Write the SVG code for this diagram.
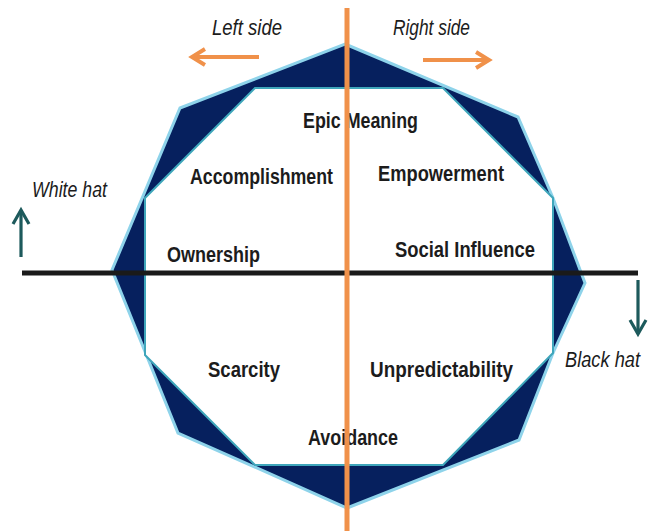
<svg xmlns="http://www.w3.org/2000/svg" width="656" height="531" viewBox="0 0 656 531">
<defs>
<style>
.lbl{font-family:"Liberation Sans",Arial,sans-serif;font-weight:bold;font-size:22.5px;fill:#1c1c1c}
.side{font-family:"Liberation Sans",Arial,sans-serif;font-style:italic;font-size:22px;fill:#1c1c1c}
.orange{stroke:#f0914a;fill:none;stroke-linecap:butt}
.teal{stroke:#1d5a5c;fill:none}
</style>
<marker id="oh" markerUnits="userSpaceOnUse" markerWidth="20" markerHeight="24" refX="14" refY="10" orient="auto">
<path d="M1,2 L14,10 L1,18" fill="none" stroke="#f0914a" stroke-width="4" stroke-linejoin="miter"/>
</marker>
<marker id="th" markerUnits="userSpaceOnUse" markerWidth="20" markerHeight="24" refX="15" refY="10" orient="auto">
<path d="M1,2 L15,10 L1,18" fill="none" stroke="#1d5a5c" stroke-width="3.2"/>
</marker>
</defs>
<rect width="656" height="531" fill="#ffffff"/>
<g id="frame">
<polygon points="345,44 518,117 553,198 585,283 553,353 519,440 347,508 178,433 112,270 180,108" fill="#06205e" stroke="#8ed3ea" stroke-width="3" stroke-linejoin="miter"/>
<polygon points="255,88 443,88 553,198 553,353 443,465 255,465 145,355 145,198" fill="#ffffff" stroke="#3fa6bb" stroke-width="2"/>
</g>
<g id="epic-meaning"><text class="lbl" x="303" y="128" textLength="115" lengthAdjust="spacingAndGlyphs">Epic Meaning</text></g>
<g id="accomplishment"><text class="lbl" x="190" y="184" textLength="143" lengthAdjust="spacingAndGlyphs">Accomplishment</text></g>
<g id="empowerment"><text class="lbl" x="378" y="181" textLength="126" lengthAdjust="spacingAndGlyphs">Empowerment</text></g>
<g id="ownership"><text class="lbl" x="167" y="262" textLength="93" lengthAdjust="spacingAndGlyphs">Ownership</text></g>
<g id="social-influence"><text class="lbl" x="395" y="257" textLength="140" lengthAdjust="spacingAndGlyphs">Social Influence</text></g>
<g id="scarcity"><text class="lbl" x="208" y="377" textLength="72" lengthAdjust="spacingAndGlyphs">Scarcity</text></g>
<g id="unpredictability"><text class="lbl" x="370" y="377" textLength="143" lengthAdjust="spacingAndGlyphs">Unpredictability</text></g>
<g id="avoidance"><text class="lbl" x="308" y="445" textLength="90" lengthAdjust="spacingAndGlyphs">Avoidance</text></g>
<g id="left-side"><text class="side" x="212" y="35" textLength="70" lengthAdjust="spacingAndGlyphs">Left side</text></g>
<g id="right-side"><text class="side" x="393" y="35" textLength="77" lengthAdjust="spacingAndGlyphs">Right side</text></g>
<g id="white-hat"><text class="side" x="32" y="197" textLength="75" lengthAdjust="spacingAndGlyphs">White hat</text></g>
<g id="black-hat"><text class="side" x="565" y="367" textLength="75" lengthAdjust="spacingAndGlyphs">Black hat</text></g>
<g id="connectors">
<line x1="22" y1="273" x2="638" y2="273" stroke="#1a1a1a" stroke-width="5"/>
<line x1="347" y1="8" x2="347" y2="531" stroke="#f0914a" stroke-width="5"/>
<line class="orange" x1="259" y1="57" x2="192" y2="57" stroke-width="4" marker-end="url(#oh)"/>
<line class="orange" x1="423" y1="60" x2="489" y2="60" stroke-width="4" marker-end="url(#oh)"/>
<line class="teal" x1="21" y1="257" x2="21" y2="210" stroke-width="3.2" marker-end="url(#th)"/>
<line class="teal" x1="638" y1="280" x2="638" y2="334" stroke-width="3.2" marker-end="url(#th)"/>
</g>
</svg>
